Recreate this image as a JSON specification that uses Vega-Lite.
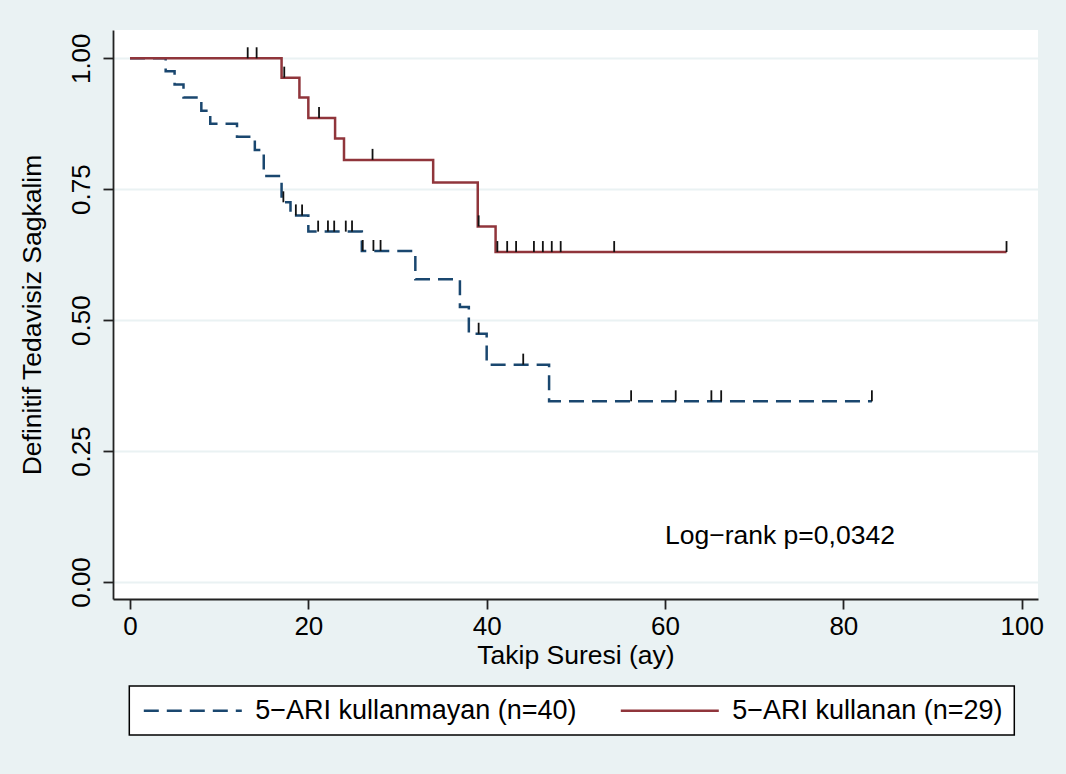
{
  "$schema": "https://vega.github.io/schema/vega-lite/v6.json",
  "autosize": {"type": "none"},
  "width": 925,
  "height": 569,
  "padding": {"left": 113, "top": 30, "right": 28, "bottom": 175},
  "background": "#EAF2F3",
  "datasets": {
    "curves": [
      {"group": "5−ARI kullanmayan (n=40)", "t": 0, "s": 1.0},
      {"group": "5−ARI kullanmayan (n=40)", "t": 4, "s": 0.975},
      {"group": "5−ARI kullanmayan (n=40)", "t": 5, "s": 0.95},
      {"group": "5−ARI kullanmayan (n=40)", "t": 6, "s": 0.925},
      {"group": "5−ARI kullanmayan (n=40)", "t": 8, "s": 0.9},
      {"group": "5−ARI kullanmayan (n=40)", "t": 9, "s": 0.875},
      {"group": "5−ARI kullanmayan (n=40)", "t": 12, "s": 0.85},
      {"group": "5−ARI kullanmayan (n=40)", "t": 14, "s": 0.825},
      {"group": "5−ARI kullanmayan (n=40)", "t": 15, "s": 0.775},
      {"group": "5−ARI kullanmayan (n=40)", "t": 17, "s": 0.725},
      {"group": "5−ARI kullanmayan (n=40)", "t": 18, "s": 0.7},
      {"group": "5−ARI kullanmayan (n=40)", "t": 20, "s": 0.669},
      {"group": "5−ARI kullanmayan (n=40)", "t": 26, "s": 0.632},
      {"group": "5−ARI kullanmayan (n=40)", "t": 32, "s": 0.578},
      {"group": "5−ARI kullanmayan (n=40)", "t": 37, "s": 0.525},
      {"group": "5−ARI kullanmayan (n=40)", "t": 38, "s": 0.474},
      {"group": "5−ARI kullanmayan (n=40)", "t": 40, "s": 0.415},
      {"group": "5−ARI kullanmayan (n=40)", "t": 47, "s": 0.345},
      {"group": "5−ARI kullanmayan (n=40)", "t": 83.2, "s": 0.345},
      {"group": "5−ARI kullanan (n=29)", "t": 0, "s": 1.0},
      {"group": "5−ARI kullanan (n=29)", "t": 17, "s": 0.963},
      {"group": "5−ARI kullanan (n=29)", "t": 19, "s": 0.925},
      {"group": "5−ARI kullanan (n=29)", "t": 20, "s": 0.886},
      {"group": "5−ARI kullanan (n=29)", "t": 23, "s": 0.847},
      {"group": "5−ARI kullanan (n=29)", "t": 24, "s": 0.806},
      {"group": "5−ARI kullanan (n=29)", "t": 34, "s": 0.763},
      {"group": "5−ARI kullanan (n=29)", "t": 39, "s": 0.679},
      {"group": "5−ARI kullanan (n=29)", "t": 41, "s": 0.63},
      {"group": "5−ARI kullanan (n=29)", "t": 98.3, "s": 0.63}
    ],
    "censor": [
      {"group": "5−ARI kullanmayan (n=40)", "t": 17.2, "s": 0.725},
      {"group": "5−ARI kullanmayan (n=40)", "t": 18.6, "s": 0.7},
      {"group": "5−ARI kullanmayan (n=40)", "t": 19.3, "s": 0.7},
      {"group": "5−ARI kullanmayan (n=40)", "t": 21.1, "s": 0.669},
      {"group": "5−ARI kullanmayan (n=40)", "t": 22.2, "s": 0.669},
      {"group": "5−ARI kullanmayan (n=40)", "t": 22.9, "s": 0.669},
      {"group": "5−ARI kullanmayan (n=40)", "t": 24.2, "s": 0.669},
      {"group": "5−ARI kullanmayan (n=40)", "t": 24.9, "s": 0.669},
      {"group": "5−ARI kullanmayan (n=40)", "t": 26.1, "s": 0.632},
      {"group": "5−ARI kullanmayan (n=40)", "t": 27.3, "s": 0.632},
      {"group": "5−ARI kullanmayan (n=40)", "t": 28.1, "s": 0.632},
      {"group": "5−ARI kullanmayan (n=40)", "t": 39.1, "s": 0.474},
      {"group": "5−ARI kullanmayan (n=40)", "t": 44.1, "s": 0.415},
      {"group": "5−ARI kullanmayan (n=40)", "t": 56.2, "s": 0.345},
      {"group": "5−ARI kullanmayan (n=40)", "t": 61.2, "s": 0.345},
      {"group": "5−ARI kullanmayan (n=40)", "t": 65.2, "s": 0.345},
      {"group": "5−ARI kullanmayan (n=40)", "t": 66.3, "s": 0.345},
      {"group": "5−ARI kullanmayan (n=40)", "t": 83.2, "s": 0.345},
      {"group": "5−ARI kullanan (n=29)", "t": 13.2, "s": 1.0},
      {"group": "5−ARI kullanan (n=29)", "t": 14.2, "s": 1.0},
      {"group": "5−ARI kullanan (n=29)", "t": 17.3, "s": 0.963},
      {"group": "5−ARI kullanan (n=29)", "t": 21.2, "s": 0.886},
      {"group": "5−ARI kullanan (n=29)", "t": 27.2, "s": 0.806},
      {"group": "5−ARI kullanan (n=29)", "t": 39.1, "s": 0.679},
      {"group": "5−ARI kullanan (n=29)", "t": 41.2, "s": 0.63},
      {"group": "5−ARI kullanan (n=29)", "t": 42.3, "s": 0.63},
      {"group": "5−ARI kullanan (n=29)", "t": 43.3, "s": 0.63},
      {"group": "5−ARI kullanan (n=29)", "t": 45.3, "s": 0.63},
      {"group": "5−ARI kullanan (n=29)", "t": 46.3, "s": 0.63},
      {"group": "5−ARI kullanan (n=29)", "t": 47.3, "s": 0.63},
      {"group": "5−ARI kullanan (n=29)", "t": 48.3, "s": 0.63},
      {"group": "5−ARI kullanan (n=29)", "t": 54.3, "s": 0.63},
      {"group": "5−ARI kullanan (n=29)", "t": 98.3, "s": 0.63}
    ],
    "note": [
      {"t": 60, "s": 0.087, "label": "Log−rank p=0,0342"}
    ]
  },
  "encoding": {
    "x": {
      "field": "t", "type": "quantitative",
      "scale": {"domain": [-1.906, 101.83], "nice": false, "zero": false},
      "axis": {
        "title": "Takip Suresi (ay)",
        "values": [0, 20, 40, 60, 80, 100],
        "grid": false,
        "labelFlush": false,
        "labelOverlap": false
      }
    },
    "y": {
      "field": "s", "type": "quantitative",
      "scale": {"domain": [-0.0325, 1.054], "nice": false, "zero": false},
      "axis": {
        "title": "Definitif Tedavisiz Sagkalim",
        "values": [0, 0.25, 0.5, 0.75, 1],
        "format": ".2f",
        "grid": true,
        "gridColor": "#EAF2F3",
        "gridWidth": 2,
        "labelAngle": 270,
        "labelAlign": "center",
        "labelBaseline": "bottom",
        "labelPadding": 9,
        "titlePadding": 22
      }
    }
  },
  "layer": [
    {
      "data": {"name": "curves"},
      "mark": {"type": "line", "interpolate": "step-after", "strokeWidth": 2.5},
      "encoding": {
        "color": {
          "field": "group", "type": "nominal", "title": null,
          "scale": {"domain": ["5−ARI kullanmayan (n=40)", "5−ARI kullanan (n=29)"], "range": ["#1A476F", "#90353B"]}
        },
        "strokeDash": {
          "field": "group", "type": "nominal", "title": null,
          "scale": {"domain": ["5−ARI kullanmayan (n=40)", "5−ARI kullanan (n=29)"], "range": [[15, 8], [1, 0]]}
        }
      }
    },
    {
      "data": {"name": "censor"},
      "mark": {"type": "tick", "orient": "vertical", "size": 11, "thickness": 1.8, "yOffset": -5.5, "color": "#111111", "opacity": 1},
      "encoding": {}
    },
    {
      "data": {"name": "note"},
      "mark": {"type": "text", "align": "left", "baseline": "middle", "fontSize": 26.5, "color": "black"},
      "encoding": {"text": {"field": "label"}}
    }
  ],
  "config": {
    "font": "Liberation Sans",
    "view": {"fill": "white", "stroke": null},
    "axis": {
      "domainColor": "#222222",
      "domainWidth": 1.8,
      "tickColor": "#222222",
      "tickWidth": 1.8,
      "tickSize": 10,
      "labelFontSize": 26,
      "labelColor": "black",
      "titleFontSize": 26.5,
      "titleFontWeight": "normal",
      "titleColor": "black"
    },
    "axisX": {"labelPadding": 4, "titlePadding": 3},
    "legend": {
      "orient": "none",
      "legendX": 16.3,
      "legendY": 656,
      "direction": "horizontal",
      "strokeColor": "black",
      "strokeWidth": 1.5,
      "fillColor": "white",
      "padding": 11,
      "symbolType": "M-1,0H8.8",
      "symbolSize": 400,
      "symbolStrokeWidth": 2.5,
      "labelFontSize": 27,
      "labelColor": "black",
      "labelOffset": 88,
      "labelLimit": 0,
      "columnPadding": 38
    }
  }
}
